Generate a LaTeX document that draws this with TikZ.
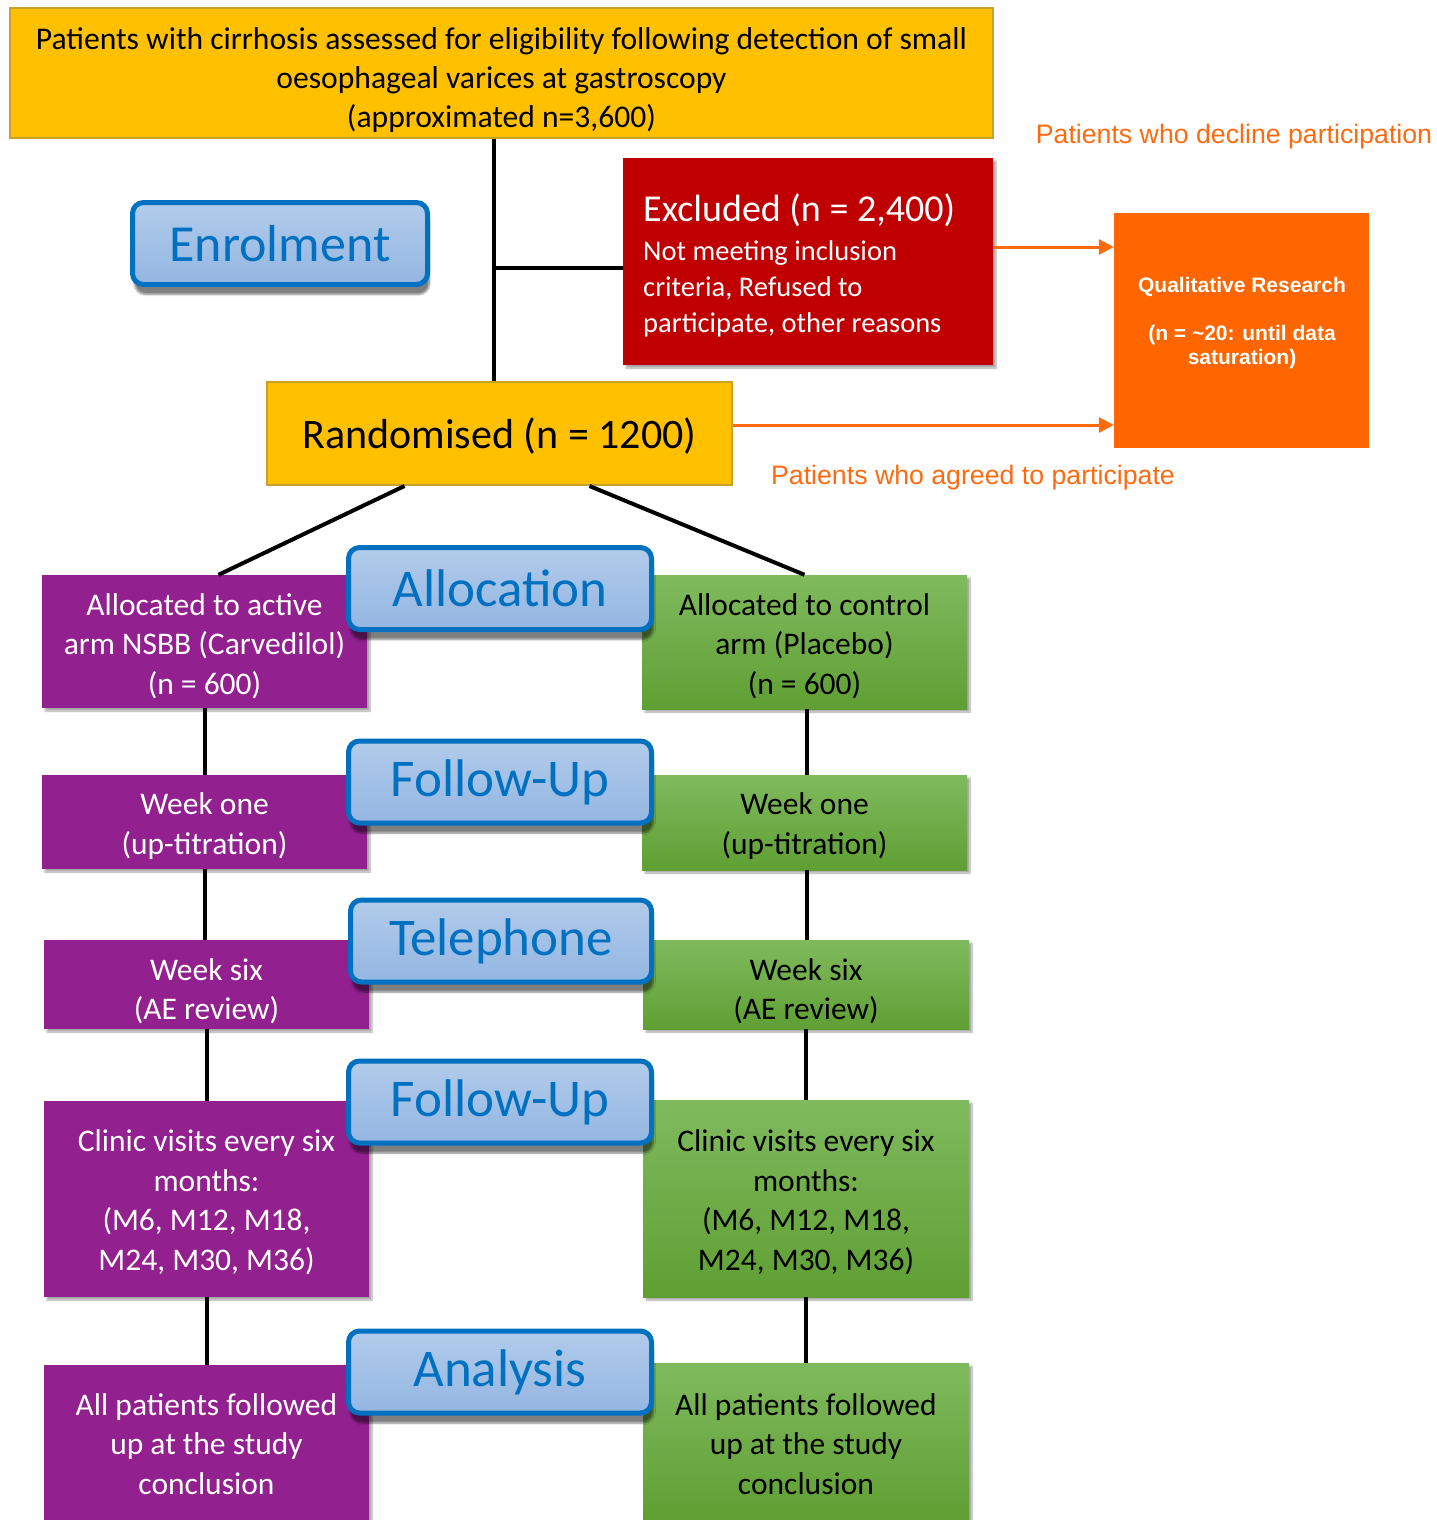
\documentclass[tikz,border=0pt]{standalone}
\usepackage{fontspec}
\setmainfont{Carlito}
\newfontfamily\arialf{Liberation Sans}
\usetikzlibrary{shadows,shadows.blur,arrows.meta,calc}
\definecolor{gold}{HTML}{FFC000}
\definecolor{goldline}{HTML}{C9A02A}
\definecolor{exred}{HTML}{C00000}
\definecolor{qorange}{HTML}{FF6600}
\definecolor{aorange}{HTML}{FF6A10}
\definecolor{purp}{HTML}{93208F}
\definecolor{grntop}{HTML}{80BA5E}
\definecolor{grnbot}{HTML}{5F9F33}
\definecolor{lblue}{HTML}{0070C0}
\definecolor{lbtop}{HTML}{B2CBEA}
\definecolor{lbbot}{HTML}{93B6E2}
\begin{document}
\begin{tikzpicture}[x=1pt,y=-1pt,
  goldbox/.style={draw=goldline, line width=2pt, fill=gold, inner sep=0pt, align=center},
  armshadow/.style={blur shadow={shadow xshift=3pt, shadow yshift=-3pt, shadow opacity=35, shadow blur steps=4}},
  armtext/.style={text=#1, inner sep=0pt, align=center, font=\fontsize{31.5}{39.5}\selectfont},
  purpbox/.style={fill=purp, inner sep=0pt, armshadow},
  grnbox/.style={top color=grntop, bottom color=grnbot, inner sep=0pt, armshadow},
  stage/.style={draw=lblue, line width=5pt, rounded corners=11pt, top color=lbtop, bottom color=lbbot,
     text=lblue, inner sep=0pt, minimum width=303pt, minimum height=82pt,
     font=\fontsize{53}{60}\selectfont,
     blur shadow={shadow xshift=2pt, shadow yshift=-10pt, shadow opacity=50, shadow blur steps=6}},
  link/.style={draw=black, line width=4pt},
  oarrow/.style={draw=aorange, line width=3pt, -{Triangle[length=15pt,width=15pt]}},
  olabel/.style={text=aorange, font=\arialf\fontsize{26.7}{30}\selectfont, inner sep=0pt}
]
\useasboundingbox (0,0) rectangle (1436,1520);

% top box
\node[goldbox, minimum width=983pt, minimum height=130pt] (top) at (501.5,73) {};
\node[inner sep=0pt, align=center, font=\fontsize{31.6}{39}\selectfont] (toptxt) at (501.5,80)
  {Patients with cirrhosis assessed for eligibility following detection of small\\
   oesophageal varices at gastroscopy\\ (approximated n=3,600)};

% enrolment
\node[stage, minimum width=295pt, font=\fontsize{52}{60}\selectfont] (enrol) at (280,243.5) {Enrolment};

% excluded
\node[fill=exred, minimum width=370pt, minimum height=207pt, inner sep=0pt, armshadow] (excl) at (808,261.5) {};
\node[anchor=west, text=white, inner sep=0pt, align=left, font=\fontsize{28.5}{36}\selectfont] (excltxt) at (643,265)
  {{\fontsize{38}{40}\selectfont Excluded (n = 2,400)}\\[3pt]
   Not meeting inclusion\\ criteria, Refused to\\ participate, other reasons};

% qualitative
\node[fill=qorange, minimum width=255pt, minimum height=235pt, inner sep=0pt] (qual) at (1241.5,330.5) {};
\node[text=white, align=center, inner sep=0pt, font=\arialf\bfseries\fontsize{21}{24}\selectfont] (qualtxt) at (1242,323)
  {Qualitative Research\\ \mbox{}\\ (n = \textasciitilde20: until data\\ saturation)};

% randomised
\node[goldbox, minimum width=465pt, minimum height=103pt] (rand) at (499.5,433.5) {};
\node[inner sep=0pt, font=\fontsize{42}{48}\selectfont] (randtxt) at (499.5,436.5) {Randomised (n = 1200)};

% orange labels
\node[olabel] (declbl) at (1234,137) {Patients who decline participation};
\node[olabel] (agrlbl) at (973,478) {Patients who agreed to participate};

% arms
\node[purpbox, minimum width=325pt, minimum height=133pt] (a1) at (204.5,641.5) {};
\node[armtext=white] at (204.5,646) {Allocated to active\\ arm NSBB (Carvedilol)\\ (n = 600)};
\node[purpbox, minimum width=325pt, minimum height=94pt] (a2) at (204.5,822) {};
\node[armtext=white] at (204.5,826) {Week one\\ (up-titration)};
\node[purpbox, minimum width=325pt, minimum height=89pt] (a3) at (206.5,984.5) {};
\node[armtext=white] at (206.5,991) {Week six\\ (AE review)};
\node[purpbox, minimum width=325pt, minimum height=196pt] (a4) at (206.5,1199) {};
\node[armtext=white] at (206.5,1202) {Clinic visits every six\\ months:\\ (M6, M12, M18,\\ M24, M30, M36)};
\node[purpbox, minimum width=325pt, minimum height=155pt] (a5) at (206.5,1442.5) {};
\node[armtext=white] at (206.5,1444) {All patients followed\\ up at the study\\ conclusion};

\node[grnbox, minimum width=325pt, minimum height=134pt] (g1) at (804.5,642) {};
\node[armtext=black] at (804.5,646) {Allocated to control\\ arm (Placebo)\\ (n = 600)};
\node[grnbox, minimum width=325pt, minimum height=95pt] (g2) at (804.5,822.5) {};
\node[armtext=black] at (804.5,826) {Week one\\ (up-titration)};
\node[grnbox, minimum width=326pt, minimum height=89pt] (g3) at (806,984.5) {};
\node[armtext=black] at (806,991) {Week six\\ (AE review)};
\node[grnbox, minimum width=326pt, minimum height=197pt] (g4) at (806,1198.5) {};
\node[armtext=black] at (806,1202) {Clinic visits every six\\ months:\\ (M6, M12, M18,\\ M24, M30, M36)};
\node[grnbox, minimum width=326pt, minimum height=157pt] (g5) at (806,1441.5) {};
\node[armtext=black] at (806,1444) {All patients followed\\ up at the study\\ conclusion};

% connectors
\coordinate (trunk) at (494,268);
\draw[link] (trunk |- top.south) -- (trunk |- rand.north);
\draw[link] (trunk) -- (trunk -| excl.west);
\draw[link] ($(rand.south)+(-95,0)$) -- ($(a1.north)+(14,0)$);
\draw[link] ($(rand.south)+(90,0)$) -- (g1.north);
\draw[link] (a1.south) -- (a1.south |- a2.north);
\draw[link] (a2.south) -- (a2.south |- a3.north);
\draw[link] (a3.south) -- (a3.south |- a4.north);
\draw[link] (a4.south) -- (a4.south |- a5.north);
\draw[link] ($(g1.south)+(2,0)$) -- ($(g1.south |- g2.north)+(2,0)$);
\draw[link] ($(g2.south)+(2,0)$) -- ($(g2.south |- g3.north)+(2,0)$);
\draw[link] (g3.south) -- (g3.south |- g4.north);
\draw[link] (g4.south) -- (g4.south |- g5.north);

\coordinate (e1) at ($(excl.east)+(0,-14.5)$);
\coordinate (r1) at ($(rand.east)+(0,-8.5)$);
\draw[oarrow] (e1) -- (e1 -| qual.west);
\draw[oarrow] (r1) -- (r1 -| qual.west);

% stage labels
\node[stage] (s1) at (500,588.5) {Allocation};
\node[stage] (s2) at (500,782) {Follow-Up};
\node[stage, minimum width=301pt] (s3) at (501,941) {Telephone};
\node[stage] (s4) at (500,1102) {Follow-Up};
\node[stage] (s5) at (500,1372) {Analysis};
\end{tikzpicture}
\end{document}
